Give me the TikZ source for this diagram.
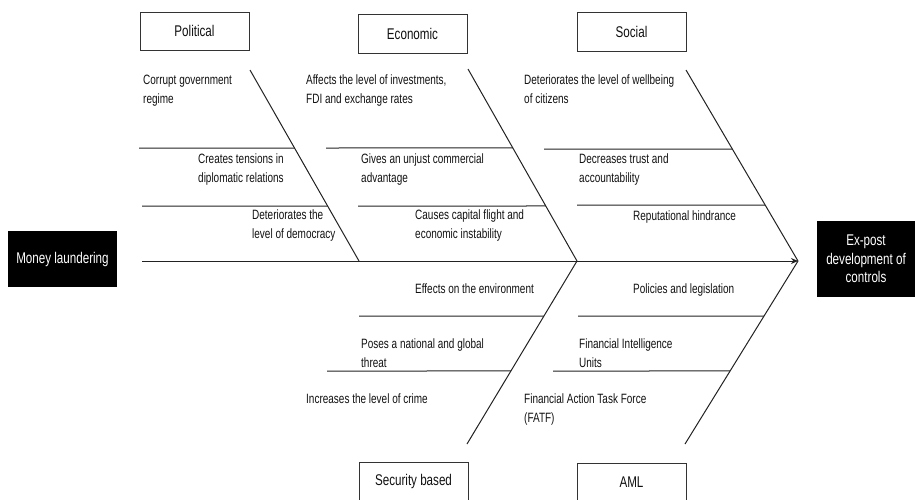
\documentclass[tikz,border=0pt]{standalone}
\usepackage{fontspec}
\setmainfont[FakeStretch=0.79]{Liberation Sans}
\newfontfamily\lblfont[FakeStretch=0.74]{Liberation Sans}
\newfontfamily\boxfont[FakeStretch=0.75]{Liberation Sans}
\usetikzlibrary{arrows.meta,calc}
\definecolor{linec}{HTML}{222222}
\definecolor{boxc}{HTML}{333333}
\definecolor{txt}{HTML}{111111}
\begin{document}
\begin{tikzpicture}[x=1pt,y=-1pt,
  bone/.style={draw=linec, line width=1pt},
  cat/.style={draw=boxc, line width=1pt, fill=white, minimum width=109pt, minimum height=38pt, inner sep=0pt, font=\boxfont\fontsize{15.5}{18}\selectfont, text=txt},
  effect/.style={fill=black, text=white, inner sep=0pt, align=center, font=\boxfont\fontsize{15.5}{18.5}\selectfont},
  lbl/.style={inner sep=0pt, align=left, anchor=base west, text=txt, font=\lblfont\fontsize{13.5}{18.7}\selectfont}]
\useasboundingbox (0,0) rectangle (915,499);

% category boxes
\node[cat] (political) at (194.5,31) {Political};
\node[cat, minimum height=39pt] (economic) at (412.5,33.5) {Economic};
\node[cat, minimum height=39pt] (social) at (631.5,31.5) {Social};
\node[cat] (security) at (413.5,481) {Security based};
\node[cat] (aml) at (631.5,482) {AML};

% head and tail
\node[effect, minimum width=109pt, minimum height=56pt] (ml) at (62.5,259) {Money laundering};
\node[effect, minimum width=98pt, minimum height=76pt] (expost) at (866,259) {Ex-post\\development of\\controls};

% spine and bones
\coordinate (s0) at (142,261);
\coordinate (s1) at (798,261);
\coordinate (pj) at (359,261);
\coordinate (ej) at (577,261);
\coordinate (pt) at (250,70);
\coordinate (et) at (468,69);
\coordinate (st) at (686,70);
\coordinate (sb) at (467,444);
\coordinate (ab) at (685,444);

\draw[bone,-{Stealth[length=7pt,width=6pt]}] (s0) -- (s1);
\draw[bone] (pt) -- (pj);
\draw[bone] (et) -- (ej);
\draw[bone] (st) -- (s1);
\draw[bone] (sb) -- (ej);
\draw[bone] (ab) -- (s1);

% sub-bone left ends
\coordinate (ph1) at (139,148);
\coordinate (ph2) at (142,206);
\coordinate (eh1) at (326,148);
\coordinate (eh2) at (358,206);
\coordinate (sh1) at (544,149);
\coordinate (sh2) at (577,205);
\coordinate (yh1) at (359,316);
\coordinate (yh2) at (327,371);
\coordinate (ah1) at (578,316);
\coordinate (ah2) at (553,371);

\draw[bone] (ph1) -- ($(pt)!0.4084!(pj)$);
\draw[bone] (ph2) -- ($(pt)!0.712!(pj)$);
\draw[bone] (eh1) -- ($(et)!0.411!(ej)$);
\draw[bone] (eh2) -- ($(et)!0.7135!(ej)$);
\draw[bone] (sh1) -- ($(st)!0.4136!(s1)$);
\draw[bone] (sh2) -- ($(st)!0.7068!(s1)$);
\draw[bone] (yh1) -- ($(ej)!0.3005!(sb)$);
\draw[bone] (yh2) -- ($(ej)!0.601!(sb)$);
\draw[bone] (ah1) -- ($(s1)!0.3005!(ab)$);
\draw[bone] (ah2) -- ($(s1)!0.601!(ab)$);

% causes (two-line labels anchored at the baseline of their last line)
\node[lbl] (c1) at (143,103.5) {Corrupt government\\regime};
\node[lbl] (c2) at (198,182) {Creates tensions in\\diplomatic relations};
\node[lbl] (c3) at (252,238.5) {Deteriorates the\\level of democracy};
\node[lbl] (c4) at (306,103.5) {Affects the level of investments,\\FDI and exchange rates};
\node[lbl] (c5) at (361,182) {Gives an unjust commercial\\advantage};
\node[lbl] (c6) at (415,238.5) {Causes capital flight and\\economic instability};
\node[lbl] (c7) at (524,103) {Deteriorates the level of wellbeing\\of citizens};
\node[lbl] (c8) at (579,182) {Decreases trust and\\accountability};
\node[lbl] (c9) at (633,220) {Reputational hindrance};
\node[lbl] (c10) at (415,293) {Effects on the environment};
\node[lbl] (c11) at (361,367) {Poses a national and global\\threat};
\node[lbl] (c12) at (306,403) {Increases the level of crime};
\node[lbl] (c13) at (633,293) {Policies and legislation};
\node[lbl] (c14) at (579,367) {Financial Intelligence\\Units};
\node[lbl] (c15) at (524,422) {Financial Action Task Force\\(FATF)};
\end{tikzpicture}
\end{document}
